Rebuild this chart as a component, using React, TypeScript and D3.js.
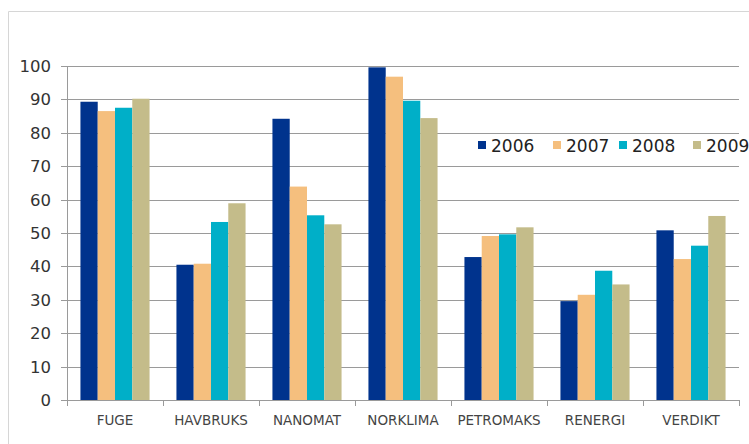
import React from "react";
import * as d3 from "d3";

const categories = ["FUGE", "HAVBRUKS", "NANOMAT", "NORKLIMA", "PETROMAKS", "RENERGI", "VERDIKT"];
const seriesNames = ["2006", "2007", "2008", "2009"];
const values2006 = [89.3, 40.5, 84.2, 99.6, 42.8, 29.6, 50.8];
const values2007 = [86.5, 40.8, 63.9, 96.8, 49.1, 31.5, 42.2];
const values2008 = [87.5, 53.3, 55.3, 89.6, 49.6, 38.7, 46.2];
const values2009 = [90.2, 58.9, 52.6, 84.4, 51.7, 34.6, 55.1];
const seriesValues = [values2006, values2007, values2008, values2009];
const colors = ["#00338D", "#F5BF7E", "#00AFC8", "#C4BC8A"];
const yTicks = [0, 10, 20, 30, 40, 50, 60, 70, 80, 90, 100];

const W = 749;
const H = 444;
const left = 67;
const right = 739;
const top = 66;
const bottom = 400;

export default function App() {
  const x = d3.scaleBand<string>().domain(categories).range([left, right]).paddingInner(0.28).paddingOuter(0.14);
  const xs = d3.scaleBand<string>().domain(seriesNames).range([0, x.bandwidth()]);
  const y = d3.scaleLinear().domain([0, 100]).range([bottom, top]);
  const step = (right - left) / categories.length;
  const font = "'DejaVu Sans', Verdana, sans-serif";

  return (
    <div style={{ position: "fixed", left: 0, top: 0 }}>
      <svg width={W} height={H} style={{ display: "block", background: "#fff" }}>
        <path d={`M8.5,${H} V11.5 H${W}`} fill="none" stroke="#d6d6d6" strokeWidth={1} />
        {yTicks.map((t) => (
          <g key={t}>
            {t > 0 && (
              <line x1={left} x2={right} y1={Math.round(y(t)) + 0.5} y2={Math.round(y(t)) + 0.5} stroke="#9a9a9a" strokeWidth={1} />
            )}
            <line x1={left - 6} x2={left} y1={Math.round(y(t)) + 0.5} y2={Math.round(y(t)) + 0.5} stroke="#9a9a9a" strokeWidth={1} />
            <text x={51} y={y(t)} dy="0.36em" textAnchor="end" fontFamily={font} fontSize={16.5} fill="#333">
              {t}
            </text>
          </g>
        ))}
        {seriesValues.map((vals, si) =>
          vals.map((v, ci) => (
            <rect
              key={`${si}-${ci}`}
              x={(x(categories[ci]) as number) + (xs(seriesNames[si]) as number)}
              y={y(v)}
              width={xs.bandwidth()}
              height={bottom - y(v)}
              fill={colors[si]}
            />
          ))
        )}
        <line x1={left + 0.5} x2={left + 0.5} y1={top} y2={bottom} stroke="#9a9a9a" strokeWidth={1} />
        <line x1={left} x2={right} y1={bottom + 0.5} y2={bottom + 0.5} stroke="#9a9a9a" strokeWidth={1} />
        {d3.range(categories.length + 1).map((i) => (
          <line key={i} x1={Math.round(left + i * step) + 0.5} x2={Math.round(left + i * step) + 0.5} y1={bottom} y2={bottom + 6} stroke="#9a9a9a" strokeWidth={1} />
        ))}
        {categories.map((c) => (
          <text key={c} x={(x(c) as number) + x.bandwidth() / 2} y={420} dy="0.36em" textAnchor="middle" fontFamily={font} fontSize={13.5} fill="#444">
            {c}
          </text>
        ))}
        {seriesNames.map((s, i) => {
          const lx = [478, 553, 619, 693][i];
          return (
            <g key={s}>
              <rect x={lx} y={141} width={8} height={8} fill={colors[i]} />
              <text x={lx + 13} y={146} dy="0.36em" fontFamily={font} fontSize={17} fill="#222">
                {s}
              </text>
            </g>
          );
        })}
      </svg>
    </div>
  );
}
